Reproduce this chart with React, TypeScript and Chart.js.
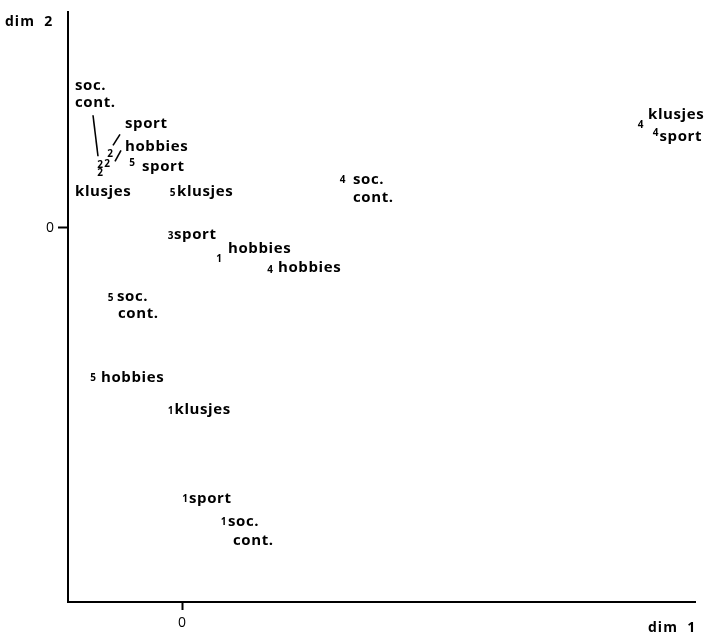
import { useEffect, useRef } from "react";
import { Chart, registerables } from "chart.js";

Chart.register(...registerables);

// Occasion number (drawn as the point marker) and activity for every point.
const occasions = [1, 1, 1, 1, 2, 2, 2, 2, 3, 4, 4, 4, 4, 5, 5, 5, 5];
const activities = [
  "sport", "soc. cont.", "klusjes", "hobbies",
  "soc. cont.", "hobbies", "sport", "klusjes",
  "sport",
  "soc. cont.", "hobbies", "klusjes", "sport",
  "sport", "klusjes", "soc. cont.", "hobbies",
];
const dim1 = [0.03, 0.415, -0.115, 0.37, -0.82, -0.75, -0.72, -0.82, -0.115, 1.605, 0.88, 4.585, 4.735, -0.5, -0.095, -0.715, -0.89];
const dim2 = [-2.73, -2.96, -1.84, -0.305, 0.64, 0.65, 0.75, 0.56, -0.08, 0.49, -0.415, 1.04, 0.965, 0.655, 0.36, -0.705, -1.51];

const axisTicks = [0];
const dim1Range = [-1.14, 5.13];
const dim2Range = [-3.77, 2.17];
const dim1Title = "dim  1";
const dim2Title = "dim  2";

// Label placement around each marker: first-line offset, second-line offset, optional leader line.
type Placement = { a: [number, number]; b?: [number, number]; lead?: [number, number, number, number] };
const placements: Placement[] = [
  { a: [4, 4] },
  { a: [4.5, 4], b: [9.5, 23.5] },
  { a: [4, 4] },
  { a: [9, -5.5] },
  { a: [-25, -74], b: [-25, -57], lead: [-7, -49, -2, -8] },
  { a: [18, -12], lead: [14, -13, 8, -2] },
  { a: [15, -25], lead: [10, -19, 3, -8] },
  { a: [-25, 24] },
  { a: [3.5, 3] },
  { a: [10.5, 5], b: [10.5, 23] },
  { a: [8, 3.5] },
  { a: [7.5, -6] },
  { a: [4, 8.5] },
  { a: [10, 8.5] },
  { a: [4.5, 4] },
  { a: [6.5, 3.5], b: [7.5, 20.5] },
  { a: [8, 4] },
];

const FONT = '"Open Sans", sans-serif';

const markerPlugin = {
  id: "occasionMarkers",
  afterDatasetsDraw(chart: any) {
    const ctx: CanvasRenderingContext2D = chart.ctx;
    const meta = chart.getDatasetMeta(0);
    ctx.save();
    ctx.fillStyle = "#000";
    ctx.strokeStyle = "#000";
    meta.data.forEach((el: any, i: number) => {
      const { x, y } = el.getProps(["x", "y"], true);
      const p = placements[i];
      // marker digit, centred on the point by its glyph height
      ctx.font = `700 10px ${FONT}`;
      (ctx as any).letterSpacing = "0px";
      ctx.textAlign = "center";
      ctx.textBaseline = "alphabetic";
      ctx.fillText(String(occasions[i]), x, y + 3.6);
      // activity label
      ctx.font = `700 15px ${FONT}`;
      (ctx as any).letterSpacing = "0.6px";
      ctx.textAlign = "left";
      const words = activities[i].split(" ");
      if (p.b && words.length > 1) {
        ctx.fillText(words[0], x + p.a[0], y + p.a[1]);
        ctx.fillText(words.slice(1).join(" "), x + p.b[0], y + p.b[1]);
      } else {
        ctx.fillText(activities[i], x + p.a[0], y + p.a[1]);
      }
      if (p.lead) {
        ctx.lineWidth = 1.6;
        ctx.beginPath();
        ctx.moveTo(x + p.lead[0], y + p.lead[1]);
        ctx.lineTo(x + p.lead[2], y + p.lead[3]);
        ctx.stroke();
      }
    });
    // axis titles
    const area = chart.chartArea;
    ctx.font = `700 14px ${FONT}`;
    (ctx as any).letterSpacing = "1px";
    ctx.textAlign = "left";
    ctx.textBaseline = "alphabetic";
    ctx.fillText(dim2Title, area.left - 63, area.top + 14);
    ctx.fillText(dim1Title, area.right - 47, area.bottom + 30);
    ctx.restore();
  },
};

export default function App() {
  const canvasRef = useRef<HTMLCanvasElement | null>(null);

  useEffect(() => {
    if (!canvasRef.current) return;
    const points = dim1.map((v, i) => ({ x: v, y: dim2[i] }));
    const onlyAxisTicks = (scale: any) => {
      scale.ticks = axisTicks.map((value) => ({ value }));
    };
    const chart = new Chart(canvasRef.current, {
      type: "scatter",
      data: {
        datasets: [
          {
            data: points,
            pointRadius: 0,
            pointHoverRadius: 0,
            clip: false as any,
          },
        ],
      },
      options: {
        animation: false,
        responsive: true,
        maintainAspectRatio: false,
        events: [],
        layout: { padding: { top: 8, right: 18, left: 0, bottom: 0 } },
        plugins: { legend: { display: false }, tooltip: { enabled: false } },
        scales: {
          x: {
            type: "linear",
            min: dim1Range[0],
            max: dim1Range[1],
            afterBuildTicks: onlyAxisTicks,
            afterFit: (scale: any) => {
              scale.height = 38;
            },
            border: { display: true, color: "#000", width: 2 },
            grid: {
              display: true,
              drawOnChartArea: false,
              drawTicks: true,
              tickLength: 8,
              tickColor: "#000",
              tickWidth: 2,
            },
            ticks: { color: "#000", font: { family: FONT, size: 14, weight: 500 }, padding: 5 },
          },
          y: {
            type: "linear",
            min: dim2Range[0],
            max: dim2Range[1],
            afterBuildTicks: onlyAxisTicks,
            afterFit: (scale: any) => {
              scale.width = 68;
            },
            border: { display: true, color: "#000", width: 2 },
            grid: {
              display: true,
              drawOnChartArea: false,
              drawTicks: true,
              tickLength: 10,
              tickColor: "#000",
              tickWidth: 2,
            },
            ticks: { color: "#000", font: { family: FONT, size: 14, weight: 500 }, padding: 4 },
          },
        },
      },
      plugins: [markerPlugin],
    });
    return () => chart.destroy();
  }, []);

  return (
    <div style={{ position: "fixed", left: 0, top: 0, width: 713, height: 640, background: "#fff" }}>
      <canvas ref={canvasRef} />
    </div>
  );
}
